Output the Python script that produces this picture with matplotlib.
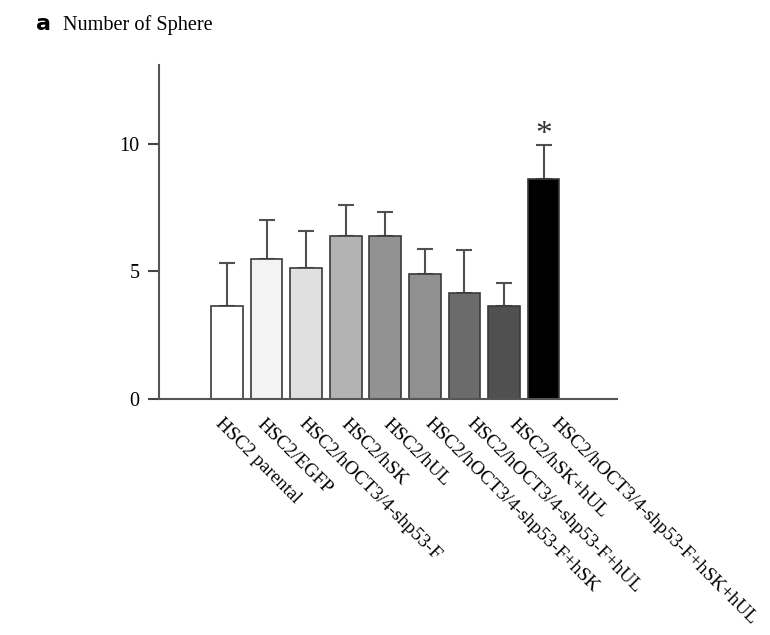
import matplotlib
matplotlib.use('Agg')
import matplotlib.pyplot as plt
import matplotlib.transforms as mtransforms
import numpy as np

groups = ['HSC2 parental', 'HSC2/EGFP', 'HSC2/hOCT3/4-shp53-F', 'HSC2/hSK', 'HSC2/hUL',
          'HSC2/hOCT3/4-shp53-F+hSK', 'HSC2/hOCT3/4-shp53-F+hUL', 'HSC2/hSK+hUL',
          'HSC2/hOCT3/4-shp53-F+hSK+hUL']
spheres = [3.65, 5.49, 5.11, 6.37, 6.37, 4.89, 4.13, 3.63, 8.61]
sd = [1.67, 1.53, 1.46, 1.24, 0.97, 0.99, 1.69, 0.92, 1.36]
shades = ['#ffffff', '#f3f3f3', '#e0e0e0', '#b3b3b3', '#929292', '#909090',
          '#6b6b6b', '#505050', '#000000']

plt.rcParams['font.family'] = ['Liberation Serif', 'DejaVu Serif']

fig = plt.figure(figsize=(7.7, 6.35), dpi=100)
ax = fig.add_axes([0.2065, 0.372, 0.5945, 0.526])

x = np.arange(len(groups))
ax.bar(x, spheres, width=0.8, color=shades, edgecolor='#3a3a3a', linewidth=1.2, zorder=2)
ax.errorbar(x, spheres, yerr=[np.zeros(len(sd)), sd], fmt='none', ecolor='#505050',
            elinewidth=1.5, capsize=6, capthick=1.5, zorder=1)

# significance mark on the last bar
ax.text(x[-1], spheres[-1] + sd[-1] - 0.2, '*', ha='center', va='bottom', fontsize=24,
        color='#333333')

ax.set_xlim(-1.72, 9.85)
ax.set_ylim(0, 13.1)
ax.set_yticks([0, 5, 10])
ax.tick_params(axis='y', direction='out', length=8, width=1.5, color='#444444',
               labelsize=14.5, pad=6)
ax.set_xticks(x)
ax.set_xticklabels(groups, rotation=-45, ha='left', va='top', rotation_mode='anchor',
                   fontsize=13.8)
ax.tick_params(axis='x', length=0, pad=12)
# labels fan out slightly wider than the bars
for i, lab in enumerate(ax.get_xticklabels()):
    shift = mtransforms.ScaledTranslation((-3 + 2.4 * i) / 100, 0, fig.dpi_scale_trans)
    lab.set_transform(lab.get_transform() + shift)

for side in ['top', 'right']:
    ax.spines[side].set_visible(False)
for side in ['left', 'bottom']:
    ax.spines[side].set_color('#555555')
    ax.spines[side].set_linewidth(1.5)

fig.text(0.047, 0.952, 'a', family='DejaVu Sans', fontweight='bold', fontsize=16,
         va='baseline')
fig.text(0.082, 0.952, 'Number of Sphere', fontsize=14.6, va='baseline')

fig.savefig('out.png', dpi=100)
